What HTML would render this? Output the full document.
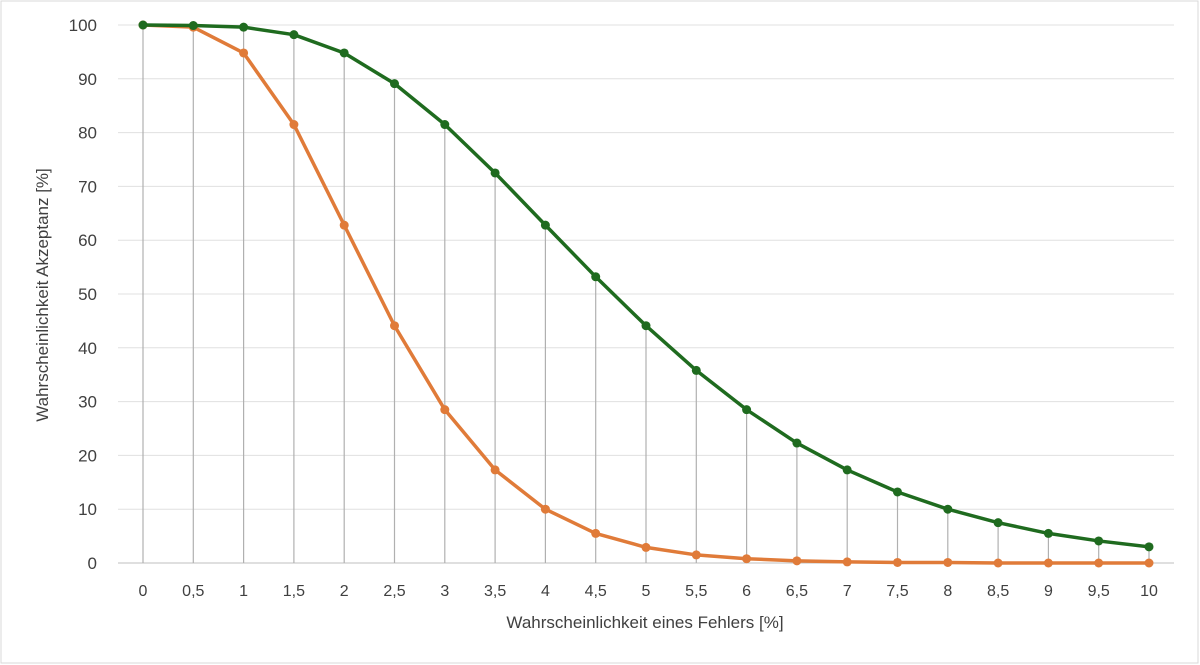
<!DOCTYPE html>
<html><head><meta charset="utf-8"><style>
body{margin:0;background:#fff}
svg{display:block;font-family:"Liberation Sans",sans-serif}
</style></head><body>
<svg id="c" width="1200" height="665">
<rect x="1" y="1" width="1197" height="662" fill="#fff" stroke="#d9d9d9"/>
<g id="grid"></g><g id="drops"></g><g id="series"></g><g id="labels"></g>
<text x="645" y="628" font-size="17" fill="#404040" text-anchor="middle">Wahrscheinlichkeit eines Fehlers [%]</text>
<text transform="translate(48,295) rotate(-90)" font-size="17" fill="#404040" text-anchor="middle">Wahrscheinlichkeit Akzeptanz [%]</text>
</svg>
<script>
const categories=["0","0,5","1","1,5","2","2,5","3","3,5","4","4,5","5","5,5","6","6,5","7","7,5","8","8,5","9","9,5","10"];
const greenValues=[100,99.9,99.6,98.2,94.8,89.1,81.5,72.5,62.8,53.2,44.1,35.8,28.5,22.3,17.3,13.2,10.0,7.5,5.5,4.1,3.0];
const orangeValues=[100,99.6,94.8,81.5,62.8,44.1,28.5,17.3,10.0,5.5,2.9,1.5,0.8,0.4,0.2,0.1,0.1,0,0,0,0];
const yTicks=[0,10,20,30,40,50,60,70,80,90,100];
const NS="http://www.w3.org/2000/svg";
const x0=143,x1=1149,yTop=25,yBot=563;
const xs=i=>x0+(x1-x0)*i/(categories.length-1);
const ys=v=>yBot-(yBot-yTop)*v/100;
function mk(t,a,p){const e=document.createElementNS(NS,t);for(const k in a)e.setAttribute(k,a[k]);p.appendChild(e);return e;}
const grid=document.getElementById('grid'),drops=document.getElementById('drops'),ser=document.getElementById('series'),lab=document.getElementById('labels');
yTicks.forEach(v=>{
 const l=mk('line',{x1:118,x2:1174,y1:ys(v),y2:ys(v),stroke:v===0?'#bfbfbf':'#e0e0e0','stroke-width':1},grid);
 
 
 const t=mk('text',{x:97,y:ys(v)+6,'font-size':17,fill:'#404040','text-anchor':'end'},lab);
 t.textContent=v;
 
 
});
categories.forEach((c,i)=>{
 const t=mk('text',{x:xs(i),y:596,'font-size':16,fill:'#404040','text-anchor':'middle'},lab);
 t.textContent=c;
 
 
 const d=mk('line',{x1:xs(i),x2:xs(i),y1:ys(Math.max(greenValues[i],orangeValues[i])),y2:yBot,stroke:'#b0b0b0','stroke-width':1.2},drops);
 
 
});
function series(vals,col,name){
 const p=mk('polyline',{points:vals.map((v,i)=>xs(i)+','+ys(v)).join(' '),fill:'none',stroke:col,'stroke-width':3.5,'stroke-linejoin':'round'},ser);
 
 
 vals.forEach((v,i)=>{
  const c=mk('circle',{cx:xs(i),cy:ys(v),r:4.5,fill:col},ser);
  
  
 });
}
series(orangeValues,'#e07b39','orange-series');
series(greenValues,'#1f6b1f','green-series');
</script>
</body></html>
